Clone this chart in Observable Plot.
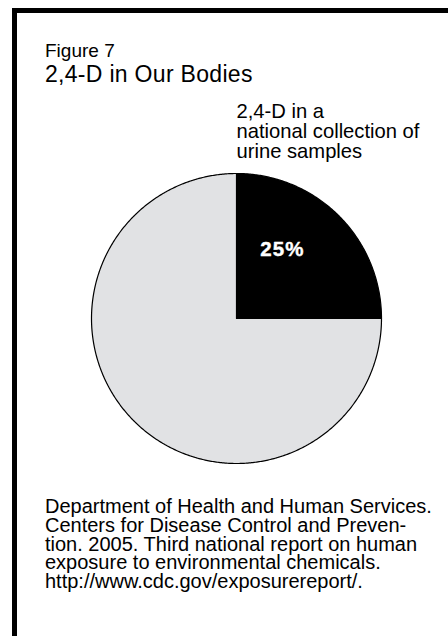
<!DOCTYPE html>
<html>
<head>
<meta charset="utf-8">
<script src="https://cdn.jsdelivr.net/npm/d3@7"></script>
<script src="https://cdn.jsdelivr.net/npm/@observablehq/plot@0.6"></script>
<style>
  html, body { margin: 0; padding: 0; background: #fff; }
  body { width: 448px; height: 636px; position: relative; overflow: hidden;
         font-family: "Liberation Sans", Arial, Helvetica, sans-serif; color: #000; }
  #frame { position: absolute; left: 12px; top: 8px; right: -10px; bottom: -10px;
           border-top: 5px solid #000; border-left: 5px solid #000; }
  .fig { position: absolute; left: 45px; white-space: nowrap; line-height: 1; }
  #fignum { top: 40.6px; font-size: 19px; }
  #title { top: 63.2px; font-size: 23px; letter-spacing: 0.3px; }
  #chart { position: absolute; left: 0; top: 95px; }
  #caption { position: absolute; left: 45px; top: 497.2px; font-size: 20px; line-height: 18.7px;
             white-space: nowrap; }
</style>
</head>
<body>
<div id="frame"></div>
<div class="fig" id="fignum"></div>
<div class="fig" id="title"></div>
<div id="chart"></div>
<div id="caption"></div>
<script>
// ---- data ----
const figureNumber = "Figure 7";
const chartTitle = "2,4-D in Our Bodies";
const categories = ["2,4-D detected", "Not detected"];
const shares = [25, 75];
const sliceLabels = ["25%", ""];
const annotationLines = ["2,4-D in a", "national collection of", "urine samples"];
const captionLines = [
  "Department of Health and Human Services.",
  "Centers for Disease Control and Preven-",
  "tion. 2005. Third national report on human",
  "exposure to environmental chemicals.",
  "http://www.cdc.gov/exposurereport/."
];

// ---- styles ----
const sliceColors = ["#000000", "#e1e2e4"];

document.getElementById("fignum").textContent = figureNumber;
document.getElementById("title").textContent = chartTitle;
document.getElementById("caption").innerHTML = captionLines.map(s => `<div>${s}</div>`).join("");

// build pie polygons from the shares (angles clockwise from 12 o'clock)
const arcs = d3.pie().sort(null).value(d => d)(shares);
const slicePoints = [];
arcs.forEach((a, i) => {
  slicePoints.push({cat: categories[i], x: 0, y: 0});
  const n = Math.max(2, Math.ceil((a.endAngle - a.startAngle) / (Math.PI / 360)));
  for (let k = 0; k <= n; k++) {
    const t = a.startAngle + (a.endAngle - a.startAngle) * k / n;
    slicePoints.push({cat: categories[i], x: Math.sin(t), y: Math.cos(t)});
  }
  slicePoints.push({cat: categories[i], x: 0, y: 0});
});
const labelData = arcs.map((a, i) => {
  const m = (a.startAngle + a.endAngle) / 2;
  return {x: 0.58 * Math.sin(m), y: 0.58 * Math.cos(m), text: sliceLabels[i]};
}).filter(d => d.text);
const annot = [{x: Math.sin(arcs[0].startAngle), y: 1, text: annotationLines.join("\n")}];

const chart = Plot.plot({
  width: 448,
  height: 400,
  margin: 0,
  style: {background: "transparent", overflow: "visible", fontFamily: "'Liberation Sans', Arial, Helvetica, sans-serif"},
  x: {domain: [-1, 1], range: [91, 381], axis: null},
  y: {domain: [-1, 1], range: [368, 78], axis: null},
  color: {domain: categories, range: sliceColors},
  marks: [
    Plot.line(slicePoints, {x: "x", y: "y", z: "cat", fill: "cat", stroke: "#000", strokeWidth: 1.2, curve: "linear"}),
    Plot.text(labelData, {x: "x", y: "y", text: "text", fill: "#fff", stroke: "#fff", strokeWidth: 0.4, fontSize: 20.5, fontWeight: "bold", dx: -13.5, dy: -9.5}),
    Plot.text(annot, {x: "x", y: "y", text: "text", textAnchor: "start", lineAnchor: "bottom", fontSize: 20.2, lineHeight: 20 / 20.2, fill: "#000", dy: -16})
  ]
});
d3.select(chart).selectAll('g[aria-label="text"]').filter((d, i) => i === 0).style("letter-spacing", "1.2px");
document.getElementById("chart").appendChild(chart);
</script>
</body>
</html>
